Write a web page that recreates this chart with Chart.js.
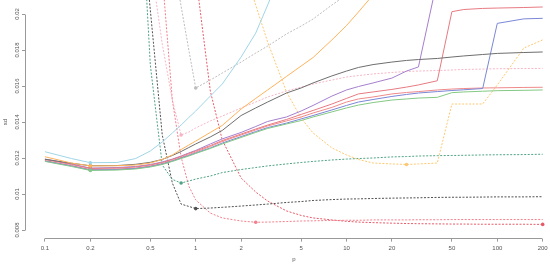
<!DOCTYPE html>
<html>
<head>
<meta charset="utf-8">
<script src="https://cdn.jsdelivr.net/npm/chart.js@4.4.1/dist/chart.umd.min.js"></script>
<style>
  html, body { margin: 0; padding: 0; overflow: hidden; background: #fff; }
  #wrap { width: 570px; height: 264px; }
</style>
</head>
<body>
<div id="wrap"><canvas id="sdChart"></canvas></div>
<script>
// p grid (log x axis)
const p = [0.1, 0.15, 0.2, 0.3, 0.4, 0.5, 0.6, 0.7, 0.8, 0.9, 1, 1.25, 1.5, 2, 2.5, 3, 4, 5, 6, 8, 10, 12, 15, 20, 25, 30, 40, 50, 60, 80, 100, 150, 200];

const xTicks = [0.1, 0.2, 0.5, 1, 2, 5, 10, 20, 50, 100, 200];
const yTicks = [0.008, 0.01, 0.012, 0.014, 0.016, 0.018, 0.02];

// solid lines
const lightBlue = [0.01235, 0.01197, 0.01174, 0.01175, 0.01197, 0.01239, 0.01289, 0.01339, 0.01383, 0.01425, 0.01461, 0.01544, 0.01611, 0.01761, 0.01894, 0.02050, 0.02300,
  null, null, null, null, null, null, null, null, null, null, null, null, null, null, null, null];
const orange = [0.01207, 0.01172, 0.01156, 0.01157, 0.01161, 0.01172, 0.01192, 0.01217, 0.01247, 0.01272, 0.01294, 0.01342, 0.01381, 0.01472, 0.01531, 0.01578, 0.01653, 0.01711, 0.01758, 0.01856, 0.01936, 0.02011, 0.02106, 0.02300,
  null, null, null, null, null, null, null, null, null];
const darkGrey = [0.01193, 0.01171, 0.01157, 0.01158, 0.01165, 0.01176, 0.01192, 0.01214, 0.01236, 0.01258, 0.01278, 0.01317, 0.01353, 0.01436, 0.01478, 0.01511, 0.01561, 0.01589, 0.01617, 0.01656, 0.01683, 0.01703, 0.01719, 0.01733, 0.01742, 0.01747, 0.01753, 0.01761, 0.01767, 0.01775, 0.01781, 0.01786, 0.01789];
const purple = [0.01194, 0.01167, 0.01144, 0.01147, 0.01153, 0.01164, 0.01178, 0.01194, 0.01211, 0.01228, 0.01242, 0.01278, 0.01306, 0.01342, 0.01375, 0.01403, 0.01428, 0.01461, 0.01492, 0.01544, 0.01578, 0.01597, 0.01617, 0.01644, 0.01683, 0.01706, 0.02189,
  null, null, null, null, null, null];
const redUpper = [0.01192, 0.01164, 0.01142, 0.01144, 0.01150, 0.01161, 0.01175, 0.01192, 0.01208, 0.01225, 0.01239, 0.01269, 0.01297, 0.01333, 0.01361, 0.01383, 0.01414, 0.01442, 0.01464, 0.01500, 0.01531, 0.01556, 0.01567, 0.01581, 0.01594, 0.01606, 0.01629, 0.02013, 0.02025, 0.02031, 0.02033, 0.02036, 0.02039];
const redLower = [0.01186, 0.01158, 0.01136, 0.01139, 0.01144, 0.01156, 0.01169, 0.01186, 0.01203, 0.01219, 0.01233, 0.01264, 0.01292, 0.01328, 0.01356, 0.01378, 0.01406, 0.01428, 0.01450, 0.01481, 0.01511, 0.01528, 0.01539, 0.01556, 0.01564, 0.01569, 0.01578, 0.01583, 0.01586, 0.01589, 0.01590, 0.01592, 0.01593];
const blue = [0.01183, 0.01156, 0.01133, 0.01136, 0.01142, 0.01153, 0.01167, 0.01183, 0.01200, 0.01214, 0.01228, 0.01256, 0.01283, 0.01319, 0.01347, 0.01369, 0.01394, 0.01417, 0.01436, 0.01467, 0.01492, 0.01511, 0.01525, 0.01542, 0.01553, 0.01561, 0.01569, 0.01575, 0.01579, 0.01586, 0.01948, 0.01973, 0.01976];
const green = [0.01181, 0.01153, 0.01131, 0.01133, 0.01139, 0.01150, 0.01164, 0.01181, 0.01197, 0.01211, 0.01225, 0.01253, 0.01278, 0.01314, 0.01342, 0.01364, 0.01389, 0.01408, 0.01428, 0.01456, 0.01478, 0.01494, 0.01508, 0.01522, 0.01528, 0.01533, 0.01537, 0.01563, 0.01567, 0.01571, 0.01574, 0.01576, 0.01578];

// dashed lines
const lightGreyD = [null, null, null, null, null, null, null, 0.02328, 0.02044, 0.01800, 0.01589, 0.01633, 0.01672, 0.01733, 0.01783, 0.01822, 0.01889, 0.01933, 0.01972, 0.02050, 0.02106,
  null, null, null, null, null, null, null, null, null, null, null, null];
const pinkD = [null, null, null, null, null, 0.02300, 0.01833, 0.01522, 0.01328, 0.01344, 0.01367, 0.01406, 0.01433, 0.01478, 0.01511, 0.01539, 0.01572, 0.01594, 0.01611, 0.01633, 0.01650, 0.01658, 0.01667, 0.01675, 0.01681, 0.01683, 0.01686, 0.01689, 0.01692, 0.01694, 0.01696, 0.01697, 0.01698];
const orangeD = [null, null, null, null, null, null, null, null, null, null, null, null, null, 0.02300, 0.02050, 0.01844, 0.01567, 0.01422, 0.01339, 0.01256, 0.01217, 0.01192, 0.01172, 0.01167, 0.01164, 0.01167, 0.01172, 0.01500, 0.01500, 0.01500, 0.01606, 0.01811, 0.01856];
const tealD = [null, null, null, null, 0.03189, 0.01717, 0.01161, 0.01081, 0.01061, 0.01072, 0.01083, 0.01100, 0.01119, 0.01136, 0.01147, 0.01156, 0.01167, 0.01175, 0.01181, 0.01189, 0.01194, 0.01197, 0.01200, 0.01206, 0.01208, 0.01211, 0.01213, 0.01214, 0.01215, 0.01217, 0.01218, 0.01219, 0.01221];
const darkGreyD = [null, null, null, null, 0.02911, 0.02022, 0.01328, 0.01061, 0.00944, 0.00931, 0.00919, 0.00922, 0.00926, 0.00933, 0.00939, 0.00944, 0.00953, 0.00958, 0.00964, 0.00969, 0.00972, 0.00973, 0.00975, 0.00977, 0.00978, 0.00979, 0.00981, 0.00982, 0.00982, 0.00983, 0.00984, 0.00984, 0.00985];
const redD1 = [null, null, null, null, null, null, 0.02217, 0.01522, 0.01206, 0.01044, 0.00967, 0.00894, 0.00867, 0.00850, 0.00843, 0.00844, 0.00847, 0.00850, 0.00851, 0.00853, 0.00854, 0.00854, 0.00856, 0.00856, 0.00856, 0.00857, 0.00857, 0.00858, 0.00858, 0.00858, 0.00858, 0.00858, 0.00858];
const redD2 = [null, null, null, null, null, null, null, null, null, null, 0.02217, 0.01572, 0.01300, 0.01089, 0.01011, 0.00961, 0.00906, 0.00881, 0.00867, 0.00856, 0.00848, 0.00844, 0.00841, 0.00838, 0.00836, 0.00835, 0.00834, 0.00833, 0.00833, 0.00832, 0.00832, 0.00832, 0.00831];

const series = [
  { data: lightBlue, color: "#9fd6e6", dashed: false, minAt: 0.2 },
  { data: orange, color: "#ffb35c", dashed: false, minAt: 0.2 },
  { data: darkGrey, color: "#6e6e6e", dashed: false, minAt: 0.2 },
  { data: green, color: "#84c984", dashed: false, minAt: 0.2 },
  { data: blue, color: "#7b87d6", dashed: false, minAt: 0.2 },
  { data: redLower, color: "#f08a8a", dashed: false, minAt: 0.2 },
  { data: redUpper, color: "#e77a82", dashed: false, minAt: 0.2 },
  { data: purple, color: "#a57fce", dashed: false, minAt: 0.2 },
  { data: lightGreyD, color: "#bdbdbd", dashed: true, minAt: 1 },
  { data: pinkD, color: "#f6b6c6", dashed: true, minAt: 0.8 },
  { data: orangeD, color: "#ffc870", dashed: true, minAt: 25 },
  { data: tealD, color: "#4fa383", dashed: true, minAt: 0.8 },
  { data: darkGreyD, color: "#505050", dashed: true, minAt: 1 },
  { data: redD1, color: "#f27f8d", dashed: true, minAt: 2.5 },
  { data: redD2, color: "#e85a68", dashed: true, minAt: 200 }
];

const axisColor = "#999";
const textColor = "#555";
Chart.defaults.font.family = "'Liberation Sans', Arial, sans-serif";

// R style axis lines: only from first to last tick
const rAxes = {
  id: "rAxes",
  afterDraw(chart) {
    const { ctx, scales: { x, y } } = chart;
    const al = (v) => Math.round(v - 0.5) + 0.5;
    ctx.save();
    ctx.strokeStyle = axisColor;
    ctx.lineWidth = 1;
    ctx.beginPath();
    const by = al(x.top);
    ctx.moveTo(al(x.getPixelForValue(xTicks[0])), by);
    ctx.lineTo(al(x.getPixelForValue(xTicks[xTicks.length - 1])), by);
    const lx = al(y.right);
    ctx.moveTo(lx, al(y.getPixelForValue(yTicks[0])));
    ctx.lineTo(lx, al(y.getPixelForValue(yTicks[yTicks.length - 1])));
    ctx.stroke();
    ctx.restore();
  }
};

const datasets = series.map((s) => ({
  data: p.map((x, i) => ({ x: x, y: s.data[i] })),
  borderColor: s.color,
  backgroundColor: s.color,
  borderWidth: 1,
  borderDash: s.dashed ? [2, 1.5] : [],
  pointRadius: (c) => (c.raw && c.raw.x === s.minAt ? 1.8 : 0),
  pointBorderWidth: 0,
  pointHoverRadius: 0,
  tension: 0,
  clip: false,
  spanGaps: false
}));

new Chart(document.getElementById("sdChart"), {
  type: "line",
  data: { datasets },
  plugins: [rAxes],
  options: {
    responsive: true,
    maintainAspectRatio: false,
    animation: false,
    layout: { padding: { top: 5.36, right: 7.4, bottom: 0, left: 0 } },
    plugins: { legend: { display: false }, tooltip: { enabled: false } },
    scales: {
      x: {
        type: "logarithmic",
        min: 0.07378,
        max: 271.06,
        afterBuildTicks: (s) => { s.ticks = xTicks.map((v) => ({ value: v })); },
        afterFit: (s) => { s.height = 25.36; s.paddingLeft = 0; s.paddingRight = 0; },
        ticks: {
          autoSkip: false, maxRotation: 0, padding: 3,
          color: textColor, font: { size: 6 },
          callback: (v) => String(v)
        },
        grid: { display: true, drawOnChartArea: false, drawTicks: true, tickLength: 3, color: axisColor },
        border: { display: false },
        title: { display: true, text: "p", color: textColor, font: { size: 6 }, padding: { top: 0, bottom: 1.5 } }
      },
      y: {
        type: "linear",
        min: 0.00752,
        max: 0.02048,
        afterBuildTicks: (s) => { s.ticks = yTicks.map((v) => ({ value: v })); },
        afterFit: (s) => { s.width = 25; s.paddingTop = 0; s.paddingBottom = 0; },
        ticks: {
          autoSkip: false, minRotation: 90, maxRotation: 90, crossAlign: "center", padding: -2.5,
          color: textColor, font: { size: 6 },
          callback: (v) => String(v)
        },
        grid: { display: true, drawOnChartArea: false, drawTicks: true, tickLength: 3, color: axisColor },
        border: { display: false },
        title: { display: true, text: "sd", color: textColor, font: { size: 6 }, padding: { top: 1.4, bottom: 0 } }
      }
    }
  }
});
</script>
</body>
</html>
